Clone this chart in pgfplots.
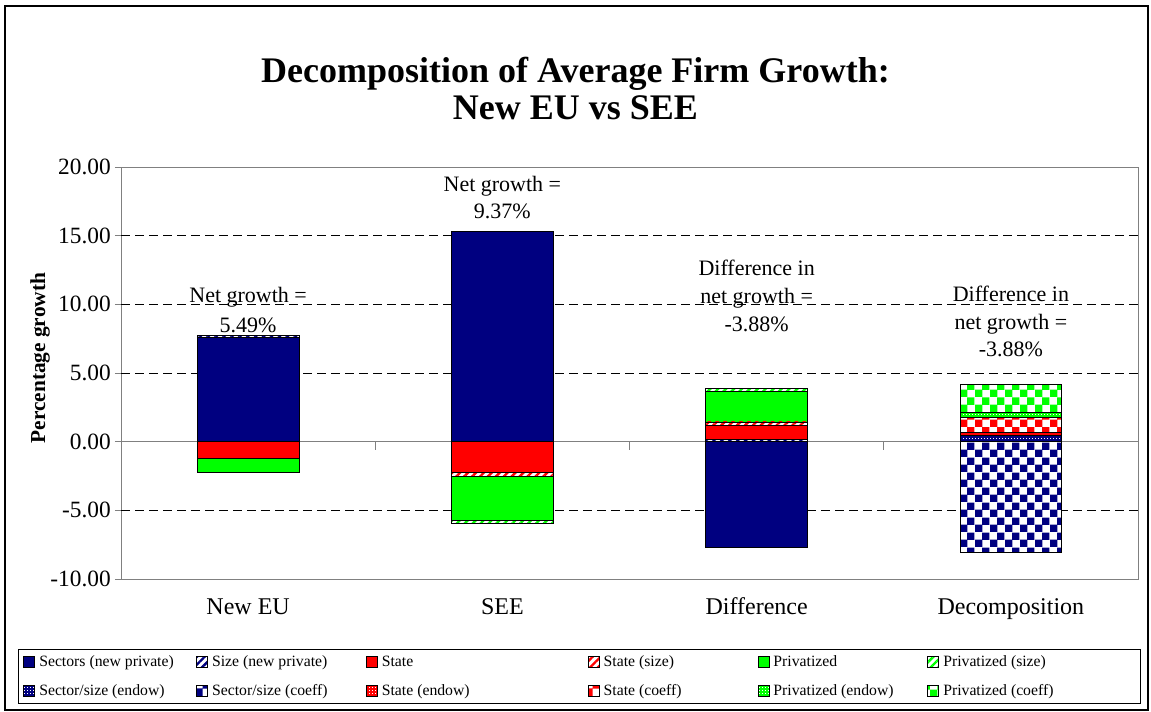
\documentclass[border=0pt]{standalone}
\usepackage{pgfplots}
\pgfplotsset{compat=1.18}
\usepackage{pgfplotstable}
\usepackage{fontspec}
\setmainfont{Liberation Serif}
\usetikzlibrary{patterns,patterns.meta}

\definecolor{navy}{RGB}{0,0,128}
\definecolor{xred}{RGB}{255,0,0}
\definecolor{xgreen}{RGB}{0,255,0}

% coarse checkerboard and fine dots, as Excel draws them
\pgfdeclarepatternformonly{bigcheck}{\pgfpointorigin}{\pgfqpoint{11.25pt}{11.25pt}}{\pgfqpoint{11.25pt}{11.25pt}}{%
  \pgfpathrectangle{\pgfpointorigin}{\pgfqpoint{5.8pt}{5.8pt}}%
  \pgfpathrectangle{\pgfqpoint{5.625pt}{5.625pt}}{\pgfqpoint{5.8pt}{5.8pt}}%
  \pgfusepath{fill}}
\pgfdeclarepatternformonly{finedots}{\pgfpointorigin}{\pgfqpoint{2.25pt}{2.25pt}}{\pgfqpoint{2.25pt}{2.25pt}}{%
  \pgfpathrectangle{\pgfpointorigin}{\pgfqpoint{0.8pt}{0.8pt}}%
  \pgfusepath{fill}}

% positive and negative parts of each component (Excel stacks them apart)
\pgfplotstableread{
x s1 s2 s3 s4 s5 s6 s7 s8 s9 s10 s11 s12
0 7.57 0.15 0 0 0 0 0 0 0 0 0 0
1 15.30 0 0 0 0 0 0 0 0 0 0 0
2 0 0.15 1.05 0.24 2.19 0.22 0 0 0 0 0 0
3 0 0 0 0 0 0 0.47 0 0.24 1.04 0.39 2.04
}\posdata
\pgfplotstableread{
x s1 s3 s4 s5 s6 s8
0 0 -1.21 0 -1.02 0 0
1 0 -2.26 -0.24 -3.21 -0.22 0
2 -7.73 0 0 0 0 0
3 0 0 0 0 0 -8.06
}\negdata

\pgfplotsset{
  base/.style={
    at={(90.75pt,-434.25pt)}, anchor=south west,
    scale only axis, width=762.75pt, height=309pt,
    xmin=-0.5, xmax=3.5, ymin=-10, ymax=20,
    ybar stacked, bar width=0.4,
  },
  bb/.style={draw=black, line width=0.6pt,
    legend image code/.code={\draw[##1] (0pt,-4.1pt) rectangle (8.25pt,4.1pt);}},
  sSolid/.style={bb, fill=#1},
  sHatch/.style={bb, preaction={fill=white},
    pattern={Lines[angle=45,distance=4.2pt,line width=1.8pt]}, pattern color=#1},
  sDots/.style={bb, fill=#1, postaction={pattern=finedots, pattern color=white}},
  sCheck/.style={bb, preaction={fill=white}, pattern=bigcheck, pattern color=#1},
}
\tikzset{anno/.style={anchor=base, font=\fontsize{16.5}{18}\selectfont, inner sep=0pt}}

\begin{document}
\begin{tikzpicture}
\begin{scope}[x=0.75pt,y=-0.75pt]
  \path[use as bounding box] (0,0) rectangle (1151,711);
  \draw[line width=1.5pt] (5,6) rectangle (1148,710);
  \node[anchor=base, font=\fontsize{27}{30}\selectfont\bfseries] at (575.5,82) {Decomposition of Average Firm Growth:};
  \node[anchor=base, font=\fontsize{27}{30}\selectfont\bfseries] at (575.5,119) {New EU vs SEE};
\end{scope}

\begin{axis}[base,
  axis line style={gray, line width=0.75pt},
  ytick={-10,-5,0,5,10,15,20},
  yticklabels={-10.00,-5.00,0.00,5.00,10.00,15.00,20.00},
  ytick pos=left, tick align=outside, major tick length=4.5pt,
  ytick style={gray, line width=0.75pt},
  xtick={0,1,2,3}, xticklabels={New EU,SEE,Difference,Decomposition},
  xtick style={draw=none},
  xticklabel style={font=\fontsize{18}{20}\selectfont, anchor=base, yshift=-22pt},
  yticklabel style={font=\fontsize{17.5}{19}\selectfont, inner xsep=3pt},
  /pgf/number format/assume math mode=true,
  extra y ticks={-5,5,10,15},
  extra y tick labels={},
  extra y tick style={grid=major, major tick length=0pt},
  major grid style={black, line width=0.75pt, dash pattern=on 6.5pt off 4pt},
  ylabel={Percentage growth},
  ylabel style={at={(axis description cs:-0.0796,0.536)}, anchor=center,
    font=\fontsize{16}{18}\selectfont\bfseries},
  legend columns=6, legend cell align=left,
  legend style={at={(-0.1013,-0.1699)}, anchor=north west,
    draw=black, line width=0.75pt,
    font=\fontsize{11.8}{13}\selectfont,
    inner xsep=3.75pt, inner ysep=3.4pt, row sep=9.75pt, column sep=0pt,
    nodes={inner xsep=3pt, inner ysep=0pt, text height=9pt, text depth=3pt}},
]
  \draw[gray, line width=0.75pt] (axis cs:-0.5,0) -- (axis cs:3.5,0);
  \draw[gray, line width=0.75pt] (axis cs:0.5,0) -- ++(0pt,-6pt);
  \draw[gray, line width=0.75pt] (axis cs:1.5,0) -- ++(0pt,-6pt);
  \draw[gray, line width=0.75pt] (axis cs:2.5,0) -- ++(0pt,-6pt);

  \addplot[sSolid=navy]   table[x=x,y=s1]{\posdata};
  \addlegendentry{\makebox[114.75pt][l]{Sectors (new private)}}
  \addplot[sHatch=navy]   table[x=x,y=s2]{\posdata};
  \addlegendentry{\makebox[112.5pt][l]{Size (new private)}}
  \addplot[sSolid=xred]   table[x=x,y=s3]{\posdata};
  \addlegendentry{\makebox[151.5pt][l]{State}}
  \addplot[sHatch=xred]   table[x=x,y=s4]{\posdata};
  \addlegendentry{\makebox[112.5pt][l]{State (size)}}
  \addplot[sSolid=xgreen] table[x=x,y=s5]{\posdata};
  \addlegendentry{\makebox[112.5pt][l]{Privatized}}
  \addplot[sHatch=xgreen] table[x=x,y=s6]{\posdata};
  \addlegendentry{\makebox[141pt][l]{Privatized (size)}}
  \addplot[sDots=navy]    table[x=x,y=s7]{\posdata};
  \addlegendentry{\makebox[114.75pt][l]{Sector/size (endow)}}
  \addplot[sCheck=navy]   table[x=x,y=s8]{\posdata};
  \addlegendentry{\makebox[112.5pt][l]{Sector/size (coeff)}}
  \addplot[sDots=xred]    table[x=x,y=s9]{\posdata};
  \addlegendentry{\makebox[151.5pt][l]{State (endow)}}
  \addplot[sCheck=xred]   table[x=x,y=s10]{\posdata};
  \addlegendentry{\makebox[112.5pt][l]{State (coeff)}}
  \addplot[sDots=xgreen]  table[x=x,y=s11]{\posdata};
  \addlegendentry{\makebox[112.5pt][l]{Privatized (endow)}}
  \addplot[sCheck=xgreen] table[x=x,y=s12]{\posdata};
  \addlegendentry{\makebox[141pt][l]{Privatized (coeff)}}

  \node[anno] at (axis cs:0,10.11) {Net growth =};
  \node[anno] at (axis cs:0,7.92) {5.49\%};
  \node[anno] at (axis cs:1,18.20) {Net growth =};
  \node[anno] at (axis cs:1,16.23) {9.37\%};
  \node[anno] at (axis cs:2,12.08) {Difference in};
  \node[anno] at (axis cs:2,10.04) {net growth =};
  \node[anno] at (axis cs:2,8.00) {-3.88\%};
  \node[anno] at (axis cs:3,10.18) {Difference in};
  \node[anno] at (axis cs:3,8.14) {net growth =};
  \node[anno] at (axis cs:3,6.17) {-3.88\%};
\end{axis}

\begin{axis}[base, hide axis]
  \addplot[sSolid=navy]   table[x=x,y=s1]{\negdata};
  \addplot[sSolid=xred]   table[x=x,y=s3]{\negdata};
  \addplot[sHatch=xred]   table[x=x,y=s4]{\negdata};
  \addplot[sSolid=xgreen] table[x=x,y=s5]{\negdata};
  \addplot[sHatch=xgreen] table[x=x,y=s6]{\negdata};
  \addplot[sCheck=navy]   table[x=x,y=s8]{\negdata};
\end{axis}
\end{tikzpicture}
\end{document}
